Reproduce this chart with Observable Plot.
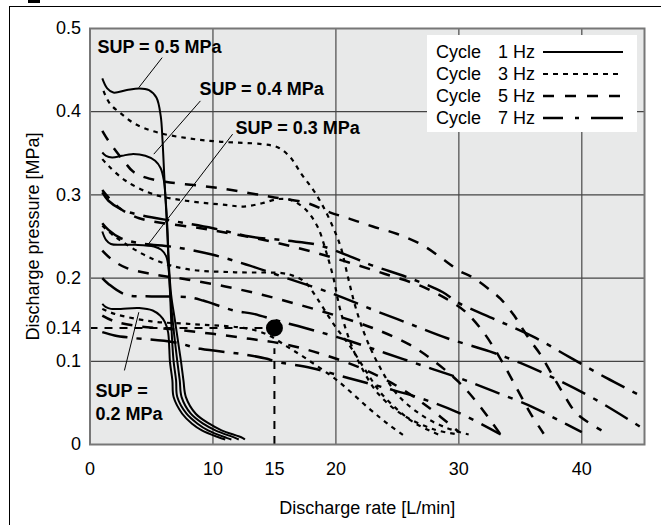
<!DOCTYPE html>
<html><head><meta charset="utf-8">
<script src="https://cdn.jsdelivr.net/npm/d3@7"></script>
<script src="https://cdn.jsdelivr.net/npm/@observablehq/plot@0.6"></script>
<style>
body{margin:0;background:#fff;font-family:"Liberation Sans",Arial,sans-serif;}
#wrap{position:relative;width:661px;height:525px;overflow:hidden;}
#border{position:absolute;left:9px;top:6px;width:700px;height:600px;border-left:1.5px solid #000;border-top:1.5px solid #000;}
#mark{position:absolute;left:28px;top:0;width:12px;height:3px;background:#000;}
#chart{position:absolute;left:0;top:0;}
#legend{position:absolute;left:427px;top:35px;width:210px;height:97px;background:#fff;}
</style></head><body>
<div id="wrap"><div id="border"></div><div id="mark"></div><div id="chart"></div><div id="legend"></div></div>
<script>
// Axis ticks
const xTicks = [0, 10, 15, 20, 30, 40];
const yTicks = [0, 0.1, 0.14, 0.2, 0.3, 0.4, 0.5];

// 1 Hz (solid)
const s05 = [[1,0.44],[1.4,0.428],[1.9,0.423],[3,0.426],[4,0.428],[4.8,0.426],[5.4,0.417],[5.75,0.395],[5.9,0.365],[6.05,0.32],[6.2,0.28],[6.4,0.22],[6.6,0.18],[6.9,0.15],[7.2,0.12],[7.4,0.1],[7.6,0.077],[7.8,0.057],[8.6,0.037],[9.7,0.025],[10.7,0.017],[12.4,0.008],[12.6,0.006]];
const s04 = [[1,0.351],[1.3,0.347],[1.8,0.345],[2.6,0.347],[3.4,0.349],[4.5,0.347],[5.3,0.341],[5.75,0.332],[6.0,0.318],[6.15,0.295],[6.3,0.26],[6.45,0.2],[6.65,0.16],[6.9,0.125],[7.1,0.1],[7.3,0.077],[7.45,0.057],[8.2,0.037],[9.2,0.025],[10.2,0.017],[11.8,0.008],[12.1,0.006]];
const s03 = [[1,0.256],[1.3,0.246],[1.7,0.241],[2.5,0.24],[3.7,0.24],[5.2,0.238],[5.8,0.234],[6.2,0.226],[6.4,0.21],[6.5,0.185],[6.6,0.15],[6.7,0.12],[6.8,0.1],[7.0,0.077],[7.1,0.057],[7.85,0.037],[8.75,0.025],[9.6,0.017],[11.1,0.008],[11.5,0.006]];
const s02 = [[1,0.169],[1.3,0.165],[1.7,0.163],[2.5,0.163],[4,0.164],[5.1,0.161],[5.7,0.155],[6.1,0.147],[6.35,0.135],[6.45,0.115],[6.5,0.1],[6.7,0.077],[6.8,0.057],[7.5,0.037],[8.3,0.025],[9.1,0.017],[10.4,0.009],[11,0.006]];

// 3 Hz (dotted)
const d05 = [[1.1,0.425],[1.6,0.41],[2.5,0.398],[3.7,0.385],[5.5,0.375],[8,0.368],[10.5,0.364],[14,0.361],[15.3,0.357],[16.3,0.345],[17.2,0.325],[18.2,0.305],[19,0.285],[19.8,0.26],[20.4,0.237],[21,0.2],[21.6,0.165],[22.4,0.13],[23.5,0.095],[25,0.06],[27,0.035],[29,0.02],[30.8,0.012]];
const d04 = [[1,0.343],[1.5,0.335],[2.9,0.317],[5.1,0.301],[7.8,0.293],[11,0.288],[12.5,0.286],[14,0.29],[15.3,0.295],[16.3,0.294],[17.5,0.283],[18.5,0.262],[19.2,0.232],[19.8,0.2],[20.3,0.165],[21,0.13],[22,0.095],[23.5,0.06],[25.5,0.035],[28,0.018],[30,0.012]];
const d03 = [[1,0.263],[2.1,0.249],[5.1,0.223],[7.8,0.211],[11.8,0.207],[15.6,0.206],[16.5,0.203],[17.5,0.195],[18.5,0.175],[19.8,0.145],[21.2,0.117],[22.5,0.087],[23.6,0.063],[25,0.042],[26.5,0.025],[28.5,0.011]];
const d02 = [[1,0.163],[2,0.157],[5,0.148],[8,0.145],[12,0.141],[13.5,0.137],[14.7,0.13],[16,0.118],[17.4,0.105],[20.1,0.077],[22.8,0.042],[24.2,0.025],[25.5,0.011]];

// 5 Hz (dashed)
const f05 = [[1,0.377],[1.5,0.365],[2.2,0.351],[2.9,0.338],[3.5,0.328],[4.5,0.321],[6.5,0.315],[9,0.311],[11,0.307],[13,0.302],[15,0.297],[17.7,0.29],[19.5,0.279],[21,0.272],[23,0.262],[25,0.253],[27,0.24],[28.7,0.223],[30,0.209],[31.1,0.201],[32.6,0.185],[33.4,0.175],[34.5,0.155],[35.1,0.141],[35.8,0.125],[36.6,0.109],[37.7,0.081],[38.5,0.061],[39.6,0.037],[41.6,0.017]];
const f04 = [[1,0.306],[1.5,0.297],[2.5,0.283],[4,0.272],[6,0.266],[9,0.26],[12,0.252],[15,0.243],[18,0.232],[21,0.219],[24,0.205],[27,0.19],[29,0.175],[30.5,0.16],[32,0.135],[33.5,0.1],[34.8,0.065],[35.8,0.038],[36.9,0.013]];
const f03 = [[1,0.233],[1.8,0.222],[3,0.212],[5,0.205],[8,0.198],[11,0.19],[14,0.18],[17,0.168],[20,0.155],[23,0.14],[26,0.12],[28,0.1],[30,0.075],[31.5,0.05],[33.4,0.012]];
const f02 = [[1,0.155],[2,0.148],[4,0.142],[7,0.138],[10,0.133],[13,0.127],[16,0.12],[19,0.108],[22,0.092],[25,0.07],[27.5,0.045],[30,0.015]];

// 7 Hz (dash-dot)
const h05 = [[1,0.303],[1.5,0.293],[2.5,0.283],[4,0.276],[7,0.268],[10,0.26],[13,0.25],[16,0.245],[18.5,0.24],[21,0.227],[23,0.215],[26,0.2],[28.7,0.183],[30,0.17],[33,0.15],[36,0.13],[39,0.105],[42,0.08],[45,0.057]];
const h04 = [[1,0.266],[1.5,0.258],[2.5,0.248],[4,0.242],[7,0.237],[10,0.228],[13,0.215],[16,0.2],[19.8,0.181],[23,0.162],[26,0.145],[29,0.128],[32.5,0.112],[35,0.098],[38,0.078],[41,0.055],[45,0.019]];
const h03 = [[1,0.2],[1.5,0.193],[2.9,0.18],[5,0.178],[8,0.177],[9.2,0.173],[11.7,0.161],[13.3,0.157],[15.2,0.149],[18,0.138],[21,0.125],[24,0.11],[27,0.095],[30,0.08],[33,0.063],[36,0.045],[38,0.03],[40,0.015]];
const h02 = [[1,0.135],[2,0.131],[3.5,0.128],[6.8,0.123],[9,0.115],[12.2,0.109],[14.4,0.103],[15,0.1],[18,0.092],[21,0.08],[24,0.068],[27,0.055],[30,0.038],[33.4,0.012]];

// Operating point
const refPoint = [{x: 15, y: 0.14}];
const frequencies = [1, 3, 5, 7];
const supLevels = [0.5, 0.4, 0.3, 0.2];
const annotations = [
  {x: 0.6, y: 0.4796, text: "SUP = 0.5 MPa", x1: 5.87, y1: 0.465, x2: 3.97, y2: 0.429},
  {x: 8.9, y: 0.429, text: "SUP = 0.4 MPa", x1: 8.98, y1: 0.413, x2: 5.19, y2: 0.349},
  {x: 11.83, y: 0.382, text: "SUP = 0.3 MPa", x1: 11.6, y1: 0.373, x2: 4.65, y2: 0.239},
  {x: 0.45, y: 0.0523, text: "SUP =\n0.2 MPa", x1: 2.8, y1: 0.089, x2: 3.97, y2: 0.159}
];

const series = {
  1: [s05, s04, s03, s02],
  3: [d05, d04, d03, d02],
  5: [f05, f04, f03, f02],
  7: [h05, h04, h03, h02]
};
const lineStyle = {
  1: {dash: null, legendDash: null, w: 2},
  3: {dash: "4.5,5", legendDash: "5,5", w: 2.2},
  5: {dash: "11,10", legendDash: "11,11", w: 2.5},
  7: {dash: "26,9,5,9", legendDash: "20,12,4,12,32,100", w: 2.5}
};

const rows = [];
frequencies.forEach(hz => series[hz].forEach((pts, i) => pts.forEach(([x, y]) => rows.push({x, y, hz, id: `${hz}-${supLevels[i]}`}))));

const lineMarks = frequencies.map(hz => Plot.line(rows.filter(r => r.hz === hz), {
  x: "x", y: "y", z: "id", stroke: "#000", strokeWidth: lineStyle[hz].w,
  strokeDasharray: lineStyle[hz].dash, curve: "catmull-rom", strokeLinecap: "butt"
}));

const chart = Plot.plot({
  width: 661, height: 525,
  marginLeft: 89.5, marginRight: 17, marginTop: 28, marginBottom: 81,
  x: {domain: [0, 45.1], ticks: xTicks, tickSize: 0, tickPadding: 18, label: null, tickFormat: d => String(d)},
  y: {domain: [0, 0.5], ticks: yTicks, tickSize: 0, tickPadding: 9, label: null, tickFormat: d => String(d)},
  style: {fontFamily: "'Liberation Sans', Arial, sans-serif", fontSize: "18px", color: "#000", background: "transparent"},
  marks: [
    Plot.frame({fill: "#e8e9e9", stroke: null}),
    Plot.ruleX([10, 20, 30, 40], {stroke: "#555", strokeWidth: 1.3}),
    Plot.ruleY([0.1, 0.2, 0.3, 0.4], {stroke: "#444", strokeWidth: 1.3}),
    Plot.ruleY(refPoint, {y: "y", x1: 0, x2: "x", stroke: "#000", strokeDasharray: "8,7", strokeWidth: 2}),
    Plot.ruleX(refPoint, {x: "x", y1: 0, y2: 0.115, stroke: "#000", strokeDasharray: "8,7", strokeWidth: 2}),
    ...lineMarks,
    Plot.dot(refPoint, {x: "x", y: "y", r: 8.5, fill: "#000"}),
    Plot.link(annotations, {x1: "x1", y1: "y1", x2: "x2", y2: "y2", stroke: "#000", strokeWidth: 1}),
    Plot.text(annotations, {x: "x", y: "y", text: "text", textAnchor: "start", fontWeight: "bold", fontSize: 18, lineHeight: 1.28, fill: "#000"}),
    Plot.frame({stroke: "#777", strokeWidth: 2}),
    Plot.axisX({ticks: xTicks, tickSize: 0, tickPadding: 18, fontSize: 18, tickFormat: d => String(d), label: null}),
    Plot.axisY({ticks: yTicks, tickSize: 0, tickPadding: 9, fontSize: 18, tickFormat: d => String(d), label: null}),
    Plot.text(["Discharge rate [L/min]"], {frameAnchor: "bottom", dy: 64, lineAnchor: "middle", textAnchor: "middle", fontSize: 18}),
    Plot.text(["Discharge pressure [MPa]"], {frameAnchor: "left", dx: -57, rotate: -90, textAnchor: "middle", lineAnchor: "middle", fontSize: 18})
  ]
});
document.getElementById("chart").appendChild(chart);

// Legend
const legendRows = frequencies.map((hz, i) => ({hz, label: `${hz} Hz`, y: 17 + i * 22}));
const lg = d3.select("#legend").append("svg").attr("width", 210).attr("height", 97)
  .style("font-family", "'Liberation Sans', Arial, sans-serif").style("font-size", "18px");
const g = lg.selectAll("g").data(legendRows).join("g").attr("transform", d => `translate(0,${d.y})`);
g.append("text").attr("x", 9).attr("dy", "0.35em").text("Cycle");
g.append("text").attr("x", 71).attr("dy", "0.35em").text(d => d.label);
g.append("line").attr("x1", 116).attr("x2", 196).attr("stroke", "#000")
  .attr("stroke-width", d => lineStyle[d.hz].w)
  .attr("stroke-dasharray", d => lineStyle[d.hz].legendDash);
</script></body></html>
